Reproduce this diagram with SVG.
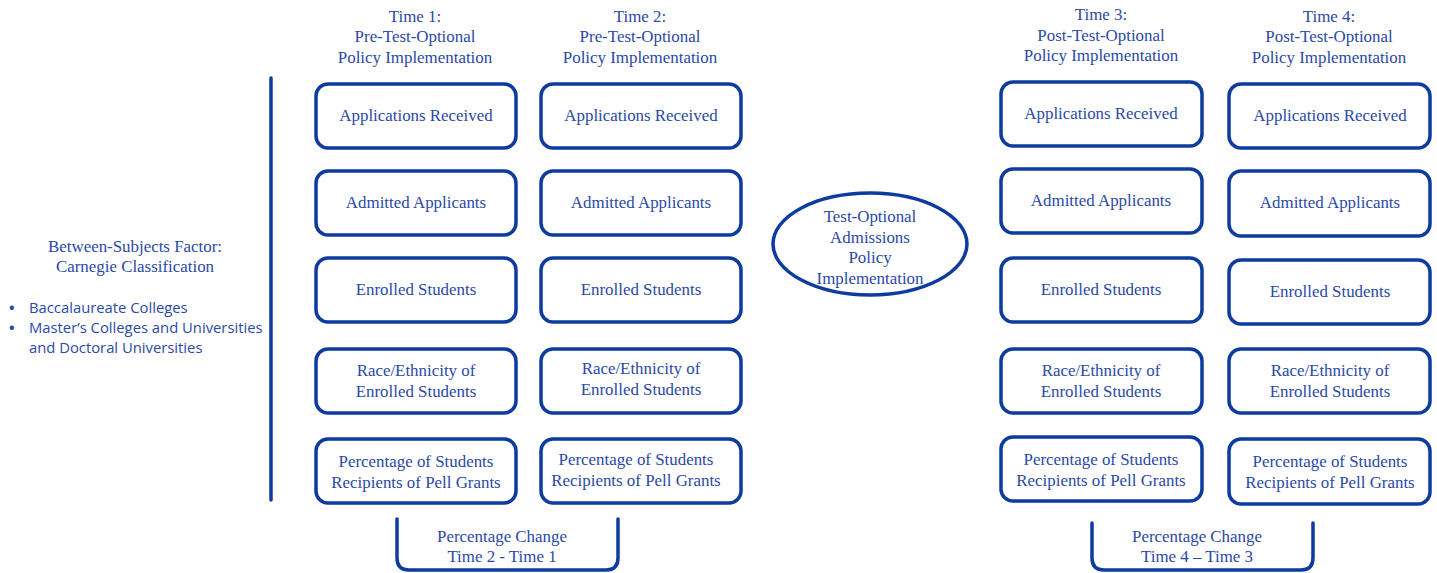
<svg xmlns="http://www.w3.org/2000/svg" width="1437" height="573" viewBox="0 0 1437 573">
<style>
.box{fill:#fff;stroke:#0d3b9f;stroke-width:3.5}
.t{font-family:"Liberation Serif","Times New Roman",serif;font-size:16.9px;fill:#2b4aa6;text-anchor:middle}
.s{font-family:"Open Sans","Liberation Sans",sans-serif;font-size:14.8px;fill:#2b4aa6}
.ln{fill:none;stroke:#0d3b9f;stroke-width:3.5;stroke-linecap:round}
</style>
<rect width="1437" height="573" fill="#fff"/>
<g id="header1"><text class="t" x="415" y="22">Time 1:</text><text class="t" x="415" y="42">Pre-Test-Optional</text><text class="t" x="415" y="63">Policy Implementation</text></g>
<g id="header2"><text class="t" x="640" y="22">Time 2:</text><text class="t" x="640" y="42">Pre-Test-Optional</text><text class="t" x="640" y="63">Policy Implementation</text></g>
<g id="header3"><text class="t" x="1101" y="20">Time 3:</text><text class="t" x="1101" y="41">Post-Test-Optional</text><text class="t" x="1101" y="61">Policy Implementation</text></g>
<g id="header4"><text class="t" x="1329" y="22">Time 4:</text><text class="t" x="1329" y="42">Post-Test-Optional</text><text class="t" x="1329" y="63">Policy Implementation</text></g>
<g id="factor">
<text class="t" x="135" y="252">Between-Subjects Factor:</text>
<text class="t" x="135" y="272">Carnegie Classification</text>
<text class="s" x="9" y="313" font-weight="bold">•</text><text class="s" x="29" y="313">Baccalaureate Colleges</text>
<text class="s" x="9" y="333" font-weight="bold">•</text><text class="s" x="29" y="333">Master’s Colleges and Universities</text>
<text class="s" x="29" y="353">and Doctoral Universities</text>
</g>
<g id="connectors">
<line class="ln" x1="271" y1="78" x2="271" y2="500"/>
<path class="ln" d="M397 519 V558 Q397 570 409 570 H606 Q618 570 618 558 V519"/>
<path class="ln" d="M1092 523 V558 Q1092 570 1104 570 H1301 Q1313 570 1313 558 V523"/>
</g>
<g id="c1r1"><rect class="box" x="316" y="84" width="200" height="64" rx="12"/><text class="t" x="416" y="121">Applications Received</text></g>
<g id="c1r2"><rect class="box" x="316" y="171" width="200" height="64" rx="12"/><text class="t" x="416" y="208">Admitted Applicants</text></g>
<g id="c1r3"><rect class="box" x="316" y="258" width="200" height="64" rx="12"/><text class="t" x="416" y="295">Enrolled Students</text></g>
<g id="c1r4"><rect class="box" x="316" y="349" width="200" height="64" rx="12"/><text class="t" x="416" y="376">Race/Ethnicity of</text><text class="t" x="416" y="397">Enrolled Students</text></g>
<g id="c1r5"><rect class="box" x="316" y="439" width="200" height="64" rx="12"/><text class="t" x="416" y="467">Percentage of Students</text><text class="t" x="416" y="488">Recipients of Pell Grants</text></g>
<g id="c2r1"><rect class="box" x="541" y="84" width="200" height="64" rx="12"/><text class="t" x="641" y="121">Applications Received</text></g>
<g id="c2r2"><rect class="box" x="541" y="171" width="200" height="64" rx="12"/><text class="t" x="641" y="208">Admitted Applicants</text></g>
<g id="c2r3"><rect class="box" x="541" y="258" width="200" height="64" rx="12"/><text class="t" x="641" y="295">Enrolled Students</text></g>
<g id="c2r4"><rect class="box" x="541" y="349" width="200" height="64" rx="12"/><text class="t" x="641" y="374">Race/Ethnicity of</text><text class="t" x="641" y="395">Enrolled Students</text></g>
<g id="c2r5"><rect class="box" x="541" y="439" width="200" height="64" rx="12"/><text class="t" x="636" y="465">Percentage of Students</text><text class="t" x="636" y="486">Recipients of Pell Grants</text></g>
<g id="policy"><ellipse class="box" cx="870" cy="244" rx="97" ry="51"/><text class="t" x="870" y="222">Test-Optional</text><text class="t" x="870" y="243">Admissions</text><text class="t" x="870" y="263">Policy</text><text class="t" x="870" y="284">Implementation</text></g>
<g id="c3r1"><rect class="box" x="1001" y="82" width="201" height="64" rx="12"/><text class="t" x="1101" y="119">Applications Received</text></g>
<g id="c3r2"><rect class="box" x="1001" y="169" width="201" height="64" rx="12"/><text class="t" x="1101" y="206">Admitted Applicants</text></g>
<g id="c3r3"><rect class="box" x="1001" y="258" width="201" height="64" rx="12"/><text class="t" x="1101" y="295">Enrolled Students</text></g>
<g id="c3r4"><rect class="box" x="1001" y="349" width="201" height="64" rx="12"/><text class="t" x="1101" y="376">Race/Ethnicity of</text><text class="t" x="1101" y="397">Enrolled Students</text></g>
<g id="c3r5"><rect class="box" x="1001" y="437" width="201" height="64" rx="12"/><text class="t" x="1101" y="465">Percentage of Students</text><text class="t" x="1101" y="486">Recipients of Pell Grants</text></g>
<g id="c4r1"><rect class="box" x="1229" y="84" width="201" height="64" rx="12"/><text class="t" x="1330" y="121">Applications Received</text></g>
<g id="c4r2"><rect class="box" x="1229" y="171" width="201" height="65" rx="12"/><text class="t" x="1330" y="208">Admitted Applicants</text></g>
<g id="c4r3"><rect class="box" x="1229" y="260" width="201" height="64" rx="12"/><text class="t" x="1330" y="297">Enrolled Students</text></g>
<g id="c4r4"><rect class="box" x="1229" y="349" width="201" height="64" rx="12"/><text class="t" x="1330" y="376">Race/Ethnicity of</text><text class="t" x="1330" y="397">Enrolled Students</text></g>
<g id="c4r5"><rect class="box" x="1229" y="439" width="201" height="65" rx="12"/><text class="t" x="1330" y="467">Percentage of Students</text><text class="t" x="1330" y="488">Recipients of Pell Grants</text></g>
<g id="change1"><text class="t" x="502" y="542">Percentage Change</text><text class="t" x="502" y="562">Time 2 - Time 1</text></g>
<g id="change2"><text class="t" x="1197" y="542">Percentage Change</text><text class="t" x="1197" y="562">Time 4 – Time 3</text></g>
</svg>
